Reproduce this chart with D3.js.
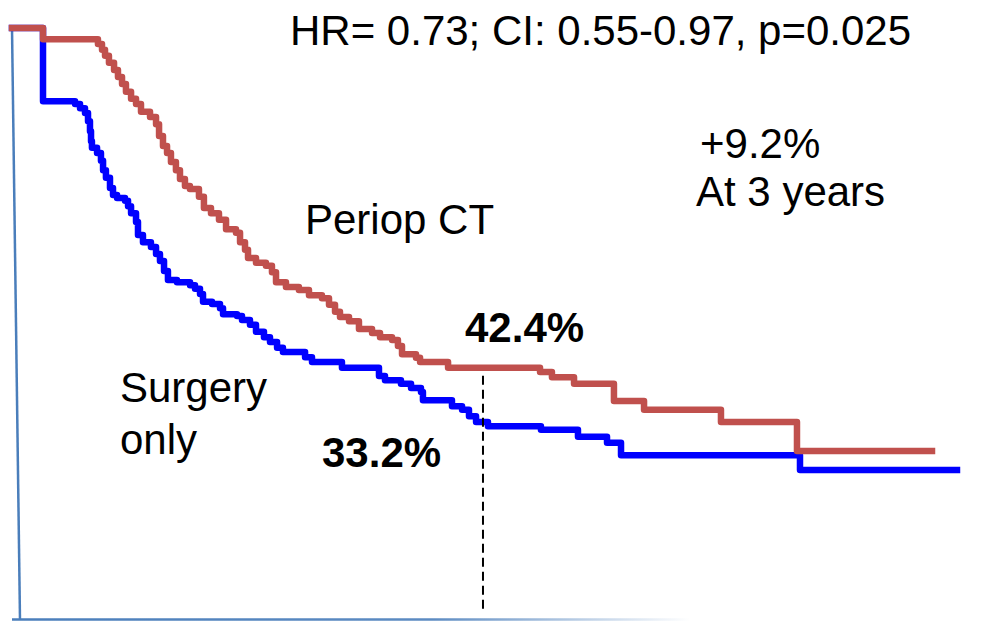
<!DOCTYPE html>
<html>
<head>
<meta charset="utf-8">
<script src="https://cdn.jsdelivr.net/npm/d3@7"></script>
<style>
  html, body { margin: 0; padding: 0; background: #fff; }
  svg { display: block; }
  text { font-family: "Liberation Sans", Arial, sans-serif; fill: #000; }
</style>
</head>
<body>
<svg id="chart" width="994" height="621"></svg>
<script>
// Kaplan-Meier estimates: time in months, survival proportion after each event
const periopTimes = [0, 2.37, 6.57, 6.88, 7.11, 7.41, 7.80, 8.10, 8.41, 8.71, 9.10, 9.48, 9.86, 10.55, 11.01, 11.24,
  11.54, 11.85, 12.15, 12.53, 12.84, 13.22, 13.60, 14.29, 14.67, 15.21, 15.82, 16.36, 17.12, 17.43, 17.81,
  18.04, 18.65, 19.41, 19.87, 20.18, 20.94, 21.93, 22.70, 23.69, 24.23, 24.69, 25.07, 25.76, 26.52, 27.52,
  28.13, 29.05, 29.50, 29.81, 30.88, 31.19, 33.33, 40.36, 41.27, 42.96, 46.01, 48.31, 54.19, 60.00, 70.32];
const periopSurv = [1.000, 0.981, 0.973, 0.963, 0.953, 0.941, 0.929, 0.917, 0.905, 0.892, 0.880, 0.871, 0.858, 0.849, 0.837, 0.817,
  0.800, 0.788, 0.773, 0.759, 0.744, 0.732, 0.727, 0.714, 0.695, 0.686, 0.675, 0.659, 0.653, 0.637, 0.624,
  0.610, 0.602, 0.597, 0.586, 0.569, 0.561, 0.556, 0.547, 0.542, 0.531, 0.519, 0.510, 0.503, 0.490, 0.483,
  0.476, 0.471, 0.461, 0.447, 0.441, 0.434, 0.424, 0.417, 0.408, 0.397, 0.368, 0.353, 0.332, 0.283, 0.283];

const surgeryTimes = [0, 2.37, 4.82, 5.20, 5.58, 5.81, 5.96, 6.04, 6.11, 6.50, 6.80, 6.96, 7.18, 7.49, 7.72, 8.03,
  8.64, 8.87, 9.10, 9.48, 9.63, 10.01, 10.62, 11.01, 11.31, 11.62, 11.92, 12.61, 13.61, 13.99, 14.37,
  14.60, 15.29, 15.90, 16.13, 17.20, 17.58, 18.19, 18.65, 19.26, 19.72, 20.26, 20.71, 22.40, 22.93, 25.22,
  28.05, 28.51, 29.73, 30.50, 31.26, 31.41, 33.63, 34.40, 34.93, 35.47, 36.38, 40.43, 43.26, 45.48, 46.55,
  60.23, 72.23];
const surgerySurv = [1.000, 0.876, 0.871, 0.864, 0.856, 0.842, 0.825, 0.808, 0.797, 0.788, 0.775, 0.759, 0.746, 0.729, 0.717, 0.712,
  0.707, 0.698, 0.686, 0.671, 0.649, 0.637, 0.629, 0.617, 0.605, 0.588, 0.573, 0.569, 0.564, 0.558, 0.549,
  0.536, 0.532, 0.525, 0.515, 0.512, 0.505, 0.497, 0.485, 0.476, 0.468, 0.458, 0.451, 0.442, 0.434, 0.424,
  0.410, 0.403, 0.397, 0.390, 0.383, 0.369, 0.359, 0.353, 0.342, 0.332, 0.325, 0.319, 0.307, 0.297, 0.276,
  0.251, 0.251];

const landmarkMonths = 36;
const statsLabel = "HR= 0.73; CI: 0.55-0.97, p=0.025";
const armLabels = { periop: ["Periop CT"], surgery: ["Surgery", "only"] };

const svg = d3.select("#chart");
const x = d3.scaleLinear().domain([0, 72]).range([12, 12 + 72 * 13.083]);
const y = d3.scaleLinear().domain([0, 1]).range([618, 28]);

const series = (t, s) => t.map((d, i) => ({ t: d, s: s[i] }));
const periop = series(periopTimes, periopSurv);
const surgery = series(surgeryTimes, surgerySurv);

// survival value of a step function at time t
const survAt = (data, t) => {
  let v = data[0].s;
  for (const d of data) { if (d.t <= t) v = d.s; }
  return v;
};

// axes frame
const defs = svg.append("defs");
const grad = defs.append("linearGradient").attr("id", "xfade")
  .attr("gradientUnits", "userSpaceOnUse")
  .attr("x1", 12).attr("x2", 690).attr("y1", 0).attr("y2", 0);
grad.append("stop").attr("offset", "0%").attr("stop-color", "#4a7ebb").attr("stop-opacity", 1);
grad.append("stop").attr("offset", "62%").attr("stop-color", "#4a7ebb").attr("stop-opacity", 0.9);
grad.append("stop").attr("offset", "100%").attr("stop-color", "#4a7ebb").attr("stop-opacity", 0);

svg.append("line")
  .attr("x1", x(0)).attr("y1", y(1))
  .attr("x2", x(0) + 8).attr("y2", y(0) + 2)
  .attr("stroke", "#4a7ebb").attr("stroke-width", 2.5);
svg.append("line")
  .attr("x1", x(0)).attr("y1", y(0) + 1.5)
  .attr("x2", 690).attr("y2", y(0) + 1.5)
  .attr("stroke", "url(#xfade)").attr("stroke-width", 2.5);

// curves
const line = d3.line().x(d => x(d.t)).y(d => y(d.s)).curve(d3.curveStepAfter);
svg.append("path").datum(surgery)
  .attr("d", line).attr("fill", "none")
  .attr("stroke", "#0000ff").attr("stroke-width", 6.5)
  .attr("stroke-linejoin", "round").attr("stroke-linecap", "square");
svg.append("path").datum(periop)
  .attr("d", line).attr("fill", "none")
  .attr("stroke", "#c0504d").attr("stroke-width", 6.5)
  .attr("stroke-linejoin", "round").attr("stroke-linecap", "square");

// 3-year landmark
const periop3 = survAt(periop, landmarkMonths);
const surgery3 = survAt(surgery, landmarkMonths);
svg.append("line")
  .attr("x1", x(landmarkMonths)).attr("x2", x(landmarkMonths))
  .attr("y1", y(periop3) + 8).attr("y2", 612)
  .attr("stroke", "#000").attr("stroke-width", 2)
  .attr("stroke-dasharray", "9,5");

const pct = d3.format(".1%");
const fs = 42;

svg.append("text").attr("x", 290).attr("y", 45)
  .attr("font-size", fs).text(statsLabel);

svg.append("text").attr("x", 700).attr("y", 158)
  .attr("font-size", fs).text("+" + pct(periop3 - surgery3));
svg.append("text").attr("x", 696).attr("y", 206)
  .attr("font-size", fs).text("At 3 years");

svg.append("text").attr("x", 305).attr("y", 234)
  .attr("font-size", fs).text(armLabels.periop[0]);

svg.append("text").attr("x", 120).attr("y", 402)
  .attr("font-size", fs).text(armLabels.surgery[0]);
svg.append("text").attr("x", 120).attr("y", 454)
  .attr("font-size", fs).text(armLabels.surgery[1]);

svg.append("text").attr("x", 465).attr("y", 342)
  .attr("font-size", fs).attr("font-weight", "bold").text(pct(periop3));
svg.append("text").attr("x", 322).attr("y", 467)
  .attr("font-size", fs).attr("font-weight", "bold").text(pct(surgery3));
</script>
</body>
</html>
